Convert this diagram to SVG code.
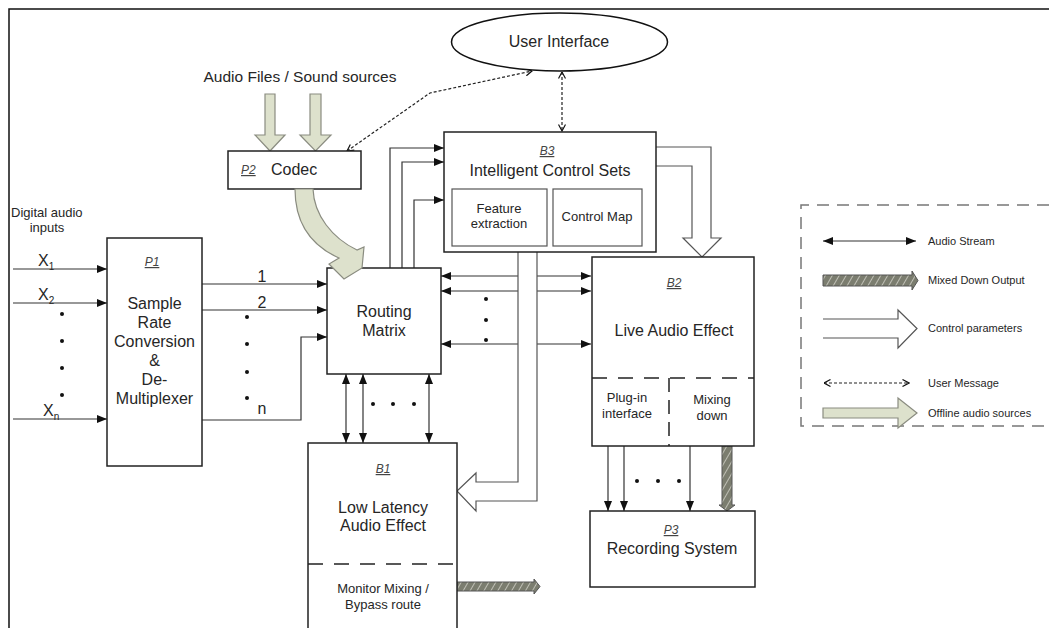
<svg xmlns="http://www.w3.org/2000/svg" width="1049" height="628" viewBox="0 0 1049 628">
<style>
text{font-family:"Liberation Sans",Arial,sans-serif;fill:#262626}
.box{fill:#fff;stroke:#222;stroke-width:1.5}
.inner{fill:#fff;stroke:#555;stroke-width:1.2}
.ln{fill:none;stroke:#333;stroke-width:1.2}
.dot{fill:none;stroke:#222;stroke-width:1.2;stroke-dasharray:3 2}
.dash{fill:none;stroke:#222;stroke-width:1.5;stroke-dasharray:15 11}
.t16{font-size:16px;text-anchor:middle}
.t13{font-size:13px;text-anchor:middle}
.lab{font-size:12px;font-style:italic;text-decoration:underline;text-anchor:middle;fill:#444}
.leg{font-size:11px}
.hollow{fill:#fff;stroke:#555;stroke-width:1.2}
.green{fill:#dde1cc;stroke:#8a8c80;stroke-width:1.2}
.hatch{fill:url(#hp);stroke:#555;stroke-width:1}
.d{fill:#111}
</style>
<defs>
<marker id="ah" viewBox="0 0 10 8" refX="10" refY="4" markerWidth="10" markerHeight="8" orient="auto-start-reverse" markerUnits="userSpaceOnUse"><path d="M0,0 L10,4 L0,8 z" fill="#111"/></marker>
<marker id="ch" viewBox="0 0 8 8" refX="7.5" refY="4" markerWidth="8" markerHeight="8" orient="auto-start-reverse" markerUnits="userSpaceOnUse"><path d="M1,0.5 L7.5,4 L1,7.5" fill="none" stroke="#111" stroke-width="1.2"/></marker>
<pattern id="hp" patternUnits="userSpaceOnUse" width="6" height="6" patternTransform="rotate(30)"><rect width="6" height="6" fill="#7b7d6f"/><line x1="0" y1="0" x2="0" y2="6" stroke="#e4e4dc" stroke-width="1.3"/></pattern>
</defs>

<!-- frame -->
<path d="M1049,9 H9 V628" fill="none" stroke="#111" stroke-width="1.5"/>

<g id="connectors">
  <!-- inputs -->
  <path class="ln" d="M13,269 H107" marker-end="url(#ah)"/>
  <path class="ln" d="M13,303 H107" marker-end="url(#ah)"/>
  <path class="ln" d="M13,419 H107" marker-end="url(#ah)"/>
  <!-- P1 outputs -->
  <path class="ln" d="M202,284 H327" marker-end="url(#ah)"/>
  <path class="ln" d="M202,310 H327" marker-end="url(#ah)"/>
  <path class="ln" d="M202,420 H301 V337 H327" marker-end="url(#ah)"/>
  <!-- routing to B3 -->
  <path class="ln" d="M390,268 V148 H444" marker-end="url(#ah)"/>
  <path class="ln" d="M402,268 V162 H444" marker-end="url(#ah)"/>
  <path class="ln" d="M414,268 V200 H444" marker-end="url(#ah)"/>
  <!-- routing <-> B2 -->
  <path class="ln" d="M441,276 H591" marker-start="url(#ah)" marker-end="url(#ah)"/>
  <path class="ln" d="M441,291 H591" marker-start="url(#ah)" marker-end="url(#ah)"/>
  <path class="ln" d="M441,344 H591" marker-start="url(#ah)" marker-end="url(#ah)"/>
  <!-- routing <-> B1 -->
  <path class="ln" d="M346,374 V443" marker-start="url(#ah)" marker-end="url(#ah)"/>
  <path class="ln" d="M363,374 V443" marker-start="url(#ah)" marker-end="url(#ah)"/>
  <path class="ln" d="M429,374 V443" marker-start="url(#ah)" marker-end="url(#ah)"/>
  <!-- B2 to P3 -->
  <path class="ln" d="M608,446 V511" marker-end="url(#ah)"/>
  <path class="ln" d="M624,446 V511" marker-end="url(#ah)"/>
  <path class="ln" d="M690,446 V511" marker-end="url(#ah)"/>
  <!-- user messages -->
  <path class="dot" d="M562,72 V131" marker-start="url(#ch)" marker-end="url(#ch)"/>
  <path class="dot" d="M347,151 L430,93 L532,71" marker-start="url(#ch)" marker-end="url(#ch)"/>
  <!-- control parameters B3 -> B2 -->
  <path class="hollow" d="M656,166 H692 V238 H683 L702,257 L721,238 H711 V147 H656"/>
  <!-- control parameters B3 -> B1 -->
  <path class="hollow" d="M518,252 V482 H476 V473 L457,491 L476,511 V501 H537 V252"/>
  <!-- offline audio sources -->
  <path class="green" d="M265,94 H275 V135 H285 L270,151 L255,135 H265 Z"/>
  <path class="green" d="M310,94 H321 V135 H331 L315.5,151 L300,135 H310 Z"/>
  <!-- mixed down outputs -->
  <path class="hatch" d="M457,582 H534 V579 L540,586.5 L534,594 V591 H457 Z"/>
  <path class="hatch" d="M722,446 H732 V505 H735 L727,511 L719,505 H722 Z"/>
  <!-- dots -->
  <circle class="d" cx="62" cy="314" r="2"/><circle class="d" cx="62" cy="341" r="2"/><circle class="d" cx="62" cy="368" r="2"/><circle class="d" cx="62" cy="395" r="2"/>
  <circle class="d" cx="247" cy="317" r="2"/><circle class="d" cx="247" cy="344" r="2"/><circle class="d" cx="247" cy="372" r="2"/><circle class="d" cx="247" cy="398" r="2"/>
  <circle class="d" cx="486" cy="299" r="2"/><circle class="d" cx="486" cy="320" r="2"/><circle class="d" cx="486" cy="340" r="2"/>
  <circle class="d" cx="373" cy="404" r="2"/><circle class="d" cx="393" cy="404" r="2"/><circle class="d" cx="414" cy="404" r="2"/>
  <circle class="d" cx="637" cy="481" r="2"/><circle class="d" cx="658" cy="481" r="2"/><circle class="d" cx="679" cy="481" r="2"/>
</g>

<g id="labels">
  <text x="300" y="82" style="font-size:15.5px;text-anchor:middle">Audio Files / Sound sources</text>
  <text x="11" y="217" style="font-size:13px">Digital audio</text>
  <text x="47" y="232" class="t13">inputs</text>
  <text x="38" y="266" style="font-size:16px">X<tspan dy="4" style="font-size:10px">1</tspan></text>
  <text x="38" y="300" style="font-size:16px">X<tspan dy="4" style="font-size:10px">2</tspan></text>
  <text x="43" y="416" style="font-size:16px">X<tspan dy="4" style="font-size:10px">n</tspan></text>
  <text x="262" y="282" class="t16">1</text>
  <text x="262" y="308" class="t16">2</text>
  <text x="262" y="414" class="t16">n</text>
</g>

<g id="P1">
  <rect class="box" x="107" y="238" width="95" height="228"/>
  <text x="152" y="266" class="lab">P1</text>
  <text class="t16" x="154.5" y="309">Sample</text>
  <text class="t16" x="154.5" y="328">Rate</text>
  <text class="t16" x="154.5" y="347">Conversion</text>
  <text class="t16" x="154.5" y="366">&amp;</text>
  <text class="t16" x="154.5" y="385">De-</text>
  <text class="t16" x="154.5" y="404">Multiplexer</text>
</g>

<g id="P2">
  <rect class="box" x="228" y="151" width="133" height="38"/>
  <text x="241" y="174" style="font-size:12px;font-style:italic;text-decoration:underline;fill:#444">P2</text>
  <text x="271" y="175" style="font-size:16px">Codec</text>
</g>

<g id="UI">
  <ellipse cx="559.5" cy="42" rx="108" ry="29" fill="#fff" stroke="#111" stroke-width="1.5"/>
  <text class="t16" x="559" y="47">User Interface</text>
</g>

<g id="B3">
  <rect class="box" x="444" y="132" width="212" height="120"/>
  <text x="547" y="155" class="lab">B3</text>
  <text class="t16" x="550" y="176">Intelligent Control Sets</text>
  <rect class="inner" x="452" y="189" width="95" height="57"/>
  <rect class="inner" x="553" y="189" width="89" height="57"/>
  <text class="t13" x="499" y="213">Feature</text>
  <text class="t13" x="499" y="228">extraction</text>
  <text class="t13" x="597" y="221">Control Map</text>
</g>

<g id="Routing">
  <rect class="box" x="327" y="268" width="114" height="106"/>
  <text class="t16" x="384" y="317">Routing</text>
  <text class="t16" x="384" y="336">Matrix</text>
</g>

<g id="codec-flow">
  <path class="green" d="M295,189 C295,225 312,246 339,258 L329,264 L344,279 L362,268 L364,247 L357,250 C332,238 314,215 313,189 Z"/>
</g>

<g id="B2">
  <rect class="box" x="592" y="257" width="162" height="189"/>
  <text x="674" y="287" class="lab">B2</text>
  <text class="t16" x="674" y="336">Live Audio Effect</text>
  <path class="dash" d="M592,378 H754"/>
  <path class="dash" d="M669,378 V446" style="stroke-dasharray:14 8"/>
  <text class="t13" x="627" y="402">Plug-in</text>
  <text class="t13" x="627" y="418">interface</text>
  <text class="t13" x="712" y="404">Mixing</text>
  <text class="t13" x="712" y="420">down</text>
</g>

<g id="B1">
  <rect class="box" x="308" y="443" width="149" height="200"/>
  <text x="383" y="473" class="lab">B1</text>
  <text class="t16" x="383" y="513">Low Latency</text>
  <text class="t16" x="383" y="531">Audio Effect</text>
  <path class="dash" d="M308,564 H457"/>
  <text class="t13" x="383" y="593">Monitor Mixing /</text>
  <text class="t13" x="383" y="609">Bypass route</text>
</g>

<g id="P3">
  <rect class="box" x="590" y="511" width="165" height="76"/>
  <text x="671" y="534" class="lab">P3</text>
  <text class="t16" x="672" y="554">Recording System</text>
</g>

<g id="legend">
  <path d="M1049,205 H801 V426 H1049" fill="none" stroke="#777" stroke-width="1.5" stroke-dasharray="12 8"/>
  <path class="ln" d="M823,241 H916" marker-start="url(#ah)" marker-end="url(#ah)"/>
  <text class="leg" x="928" y="245">Audio Stream</text>
  <path class="hatch" d="M823,275 H912 V271 L918,280.5 L912,290 V286 H823 Z"/>
  <text class="leg" x="928" y="284">Mixed Down Output</text>
  <path class="hollow" d="M823,319 H898 V310 L917,328.5 L898,348 V338 H823"/>
  <text class="leg" x="928" y="332">Control parameters</text>
  <path class="dot" d="M824,383 H909" marker-start="url(#ch)" marker-end="url(#ch)"/>
  <text class="leg" x="928" y="387">User Message</text>
  <path class="green" d="M823,408 H898 V398 L917,413 L898,428 V418 H823 Z"/>
  <text class="leg" x="928" y="417">Offline audio sources</text>
</g>
</svg>
